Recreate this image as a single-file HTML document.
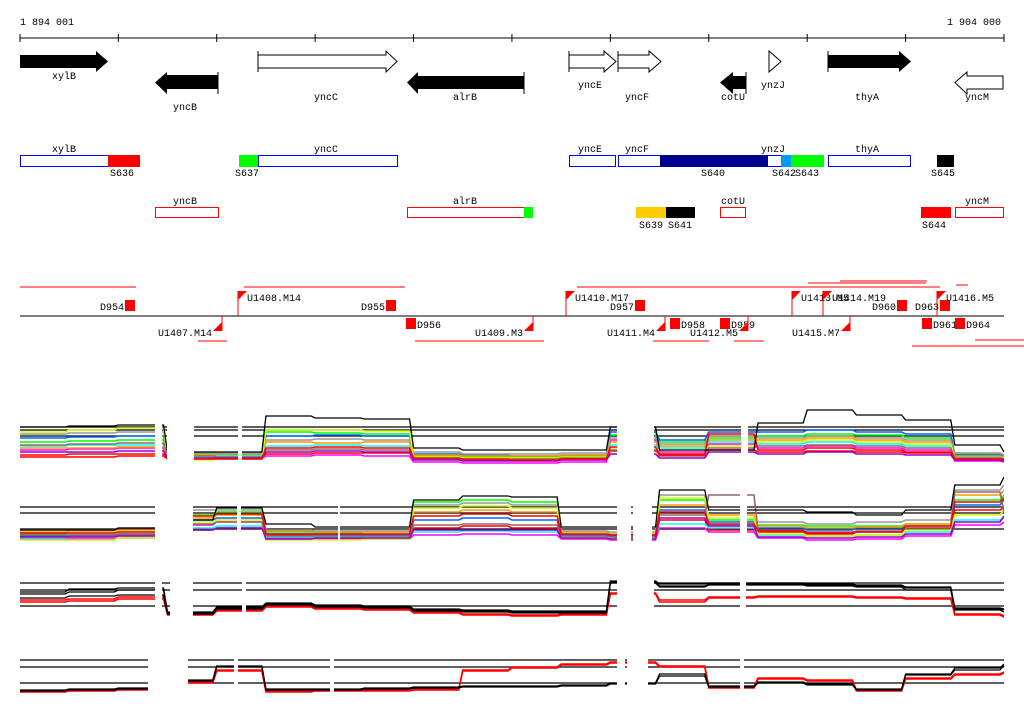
<!DOCTYPE html>
<html><head><meta charset="utf-8"><style>
html,body{margin:0;padding:0;background:#fff;width:1024px;height:714px;overflow:hidden}
svg text{font-family:"Liberation Mono","DejaVu Sans Mono",monospace;font-size:10px;fill:#000}
</style></head><body>
<svg id="fig" width="1024" height="714" viewBox="0 0 1024 714" xmlns="http://www.w3.org/2000/svg">
<g>
<text x="20" y="25">1 894 001</text>
<text x="1001" y="25" text-anchor="end">1 904 000</text>
<line x1="20" y1="38" x2="1004" y2="38" stroke="#000"/>
<g id="ticks" stroke="#000"></g>
</g>
<g>
<polygon points="20,55 96,55 96,51 108,61.5 96,72 96,68 20,68" fill="#000"/>
<text x="64" y="79" text-anchor="middle">xylB</text>
<polygon points="218,75 167,75 167,72 155,82.5 167,94 167,89 218,89" fill="#000"/>
<line x1="218" y1="72" x2="218" y2="94" stroke="#000"/>
<text x="185" y="110" text-anchor="middle">yncB</text>
<polygon points="258,55 386,55 386,51 397,61.5 386,72 386,68 258,68" fill="#fff" stroke="#000"/>
<line x1="258" y1="51" x2="258" y2="72" stroke="#000"/>
<text x="326" y="100" text-anchor="middle">yncC</text>
<polygon points="524,76 418,76 418,72 407,82.5 418,94 418,89 524,89" fill="#000"/>
<line x1="524" y1="72" x2="524" y2="94" stroke="#000"/>
<text x="465" y="100" text-anchor="middle">alrB</text>
<polygon points="569,55 604,55 604,51 616,61.5 604,72 604,68 569,68" fill="#fff" stroke="#000"/>
<line x1="569" y1="51" x2="569" y2="72" stroke="#000"/>
<text x="590" y="88" text-anchor="middle">yncE</text>
<polygon points="618,55 649,55 649,51 661,61.5 649,72 649,68 618,68" fill="#fff" stroke="#000"/>
<line x1="618" y1="51" x2="618" y2="72" stroke="#000"/>
<text x="637" y="100" text-anchor="middle">yncF</text>
<polygon points="746,76 733,76 733,72 720,82.5 733,94 733,89 746,89" fill="#000"/>
<line x1="746" y1="72" x2="746" y2="94" stroke="#000"/>
<text x="733" y="100" text-anchor="middle">cotU</text>
<polygon points="769,51 781,61.5 769,72" fill="#fff" stroke="#000"/>
<text x="773" y="88" text-anchor="middle">ynzJ</text>
<polygon points="828,55 899,55 899,51 911,61.5 899,72 899,68 828,68" fill="#000"/>
<line x1="828" y1="51" x2="828" y2="72" stroke="#000"/>
<text x="867" y="100" text-anchor="middle">thyA</text>
<polygon points="1003,76 967,76 967,72 955,82.5 967,94 967,89 1003,89" fill="#fff" stroke="#000"/>
<text x="977" y="100" text-anchor="middle">yncM</text>
</g>
<g stroke-width="1">
<rect x="20.5" y="155.5" width="88" height="11" fill="#fff" stroke="#0000ff"/>
<rect x="108" y="155" width="32" height="12" fill="#ff0000"/>
<text x="64" y="152" text-anchor="middle">xylB</text><text x="122" y="176" text-anchor="middle">S636</text>
<rect x="239" y="155" width="19" height="12" fill="#00ff00"/>
<rect x="258.5" y="155.5" width="139" height="11" fill="#fff" stroke="#0000ff"/>
<text x="326" y="152" text-anchor="middle">yncC</text><text x="247" y="176" text-anchor="middle">S637</text>
<rect x="569.5" y="155.5" width="46" height="11" fill="#fff" stroke="#0000ff"/>
<text x="590" y="152" text-anchor="middle">yncE</text>
<rect x="618.5" y="155.5" width="204" height="11" fill="#fff" stroke="#0000ff"/>
<rect x="660" y="155" width="108" height="12" fill="#000090"/>
<rect x="781" y="155" width="10" height="12" fill="#0099ff"/>
<rect x="791" y="155" width="33" height="12" fill="#00ff00"/>
<text x="637" y="152" text-anchor="middle">yncF</text><text x="773" y="152" text-anchor="middle">ynzJ</text>
<text x="713" y="176" text-anchor="middle">S640</text><text x="784" y="176" text-anchor="middle">S642</text><text x="807" y="176" text-anchor="middle">S643</text>
<rect x="828.5" y="155.5" width="82" height="11" fill="#fff" stroke="#0000ff"/>
<text x="867" y="152" text-anchor="middle">thyA</text>
<rect x="937" y="155" width="17" height="12" fill="#000"/>
<text x="943" y="176" text-anchor="middle">S645</text>
</g>
<g>
<rect x="155.5" y="207.5" width="63" height="10" fill="#fff" stroke="#ff0000"/>
<text x="185" y="204" text-anchor="middle">yncB</text>
<rect x="407.5" y="207.5" width="117" height="10" fill="#fff" stroke="#ff0000"/>
<rect x="524" y="207" width="9" height="11" fill="#00ff00"/>
<text x="465" y="204" text-anchor="middle">alrB</text>
<rect x="636" y="207" width="30" height="11" fill="#ffcc00"/>
<rect x="666" y="207" width="29" height="11" fill="#000"/>
<text x="651" y="228" text-anchor="middle">S639</text><text x="680" y="228" text-anchor="middle">S641</text>
<rect x="720.5" y="207.5" width="25" height="10" fill="#fff" stroke="#ff0000"/>
<text x="733" y="204" text-anchor="middle">cotU</text>
<rect x="921" y="207" width="30" height="11" fill="#ff0000"/>
<text x="934" y="228" text-anchor="middle">S644</text>
<rect x="955.5" y="207.5" width="48" height="10" fill="#fff" stroke="#ff0000"/>
<text x="977" y="204" text-anchor="middle">yncM</text>
</g>
<g stroke="#ff0000" fill="none">
<line x1="20" y1="287" x2="136" y2="287"/><line x1="244" y1="287" x2="405" y2="287"/><line x1="577" y1="287" x2="940" y2="287"/>
<line x1="808" y1="283" x2="926" y2="283"/><line x1="840" y1="281" x2="927" y2="281"/><line x1="956" y1="285" x2="968" y2="285"/>
<line x1="198" y1="341" x2="227" y2="341"/><line x1="415" y1="341" x2="544" y2="341"/><line x1="653" y1="341" x2="709" y2="341"/><line x1="734" y1="341" x2="764" y2="341"/>
<line x1="912" y1="346" x2="1024" y2="346"/><line x1="975" y1="340" x2="1024" y2="340"/>
<line x1="20" y1="316" x2="1004" y2="316" stroke="#000"/>
</g>
<g id="features"></g>
<g id="expr"></g>
</svg>
<script>
const NS="http://www.w3.org/2000/svg";
function mk(tag,attrs,parent){const e=document.createElementNS(NS,tag);for(const k in attrs)e.setAttribute(k,attrs[k]);parent.appendChild(e);return e;}
const ticksG=document.getElementById('ticks');
const tickPos=[1894001,1895000,1896000,1897000,1898000,1899000,1900000,1901000,1902000,1903000,1904000];
function gx(p){return 20+(p-1894001)/(1904000-1894001)*984;}
tickPos.forEach(p=>{const l=mk('line',{x1:gx(p),x2:gx(p),y1:34,y2:42},ticksG);

});
const featG=document.getElementById('features');
const featLabels=["D954","D955","D957","D960","D963","D956","D958","D959","D961","D964"];
const featBoxX=[125,386,635,897,940,406,670,720,922,955];
const featBoxY=[300,300,300,300,300,318,318,318,318,318];
featLabels.forEach((t,i)=>{
 const r=mk('rect',{x:featBoxX[i],y:featBoxY[i],width:10,height:11,fill:'#ff0000'},featG);
 
 
 const up=featBoxY[i]<316;
 const tx=mk('text',{x:up?featBoxX[i]-1:featBoxX[i]+11,y:up?310:328,'text-anchor':up?'end':'start'},featG);tx.textContent=t;
 
 
});
const uLabels=["U1408.M14","U1410.M17","U1413.M5","U1414.M19","U1416.M5","U1407.M14","U1409.M3","U1411.M4","U1412.M5","U1415.M7"];
const uTriX=[238,566,792,823,937,222,533,665,748,850];
uLabels.forEach((t,i)=>{
 const up=i<5;const x=uTriX[i];
 const p=mk('polygon',{points:up?`${x},291 ${x+9},291 ${x},300`:`${x},322 ${x},331 ${x-9},331`,fill:'#ff0000'},featG);
 
 
 mk('line',{x1:x,x2:x,y1:up?291:316,y2:up?316:331,stroke:'#ff0000'},featG);
 const tx=mk('text',{x:up?x+9:x-10,y:up?301:336,'text-anchor':up?'start':'end'},featG);tx.textContent=t;
 
 
});
const samplePos=[1894001,1894500,1895000,1895500,1896000,1896500,1897000,1897500,1898000,1898500,1899000,1899500,1900000,1900500,1901000,1901500,1902000,1902500,1903000,1903500,1904000];
const panelABlack=[33,34,35,8,8,44,42,41,12,10,10,10,33,10,10,37,50,45,40,15,8];
const panelARed=[5,6,6,2,3,6,7,7,1,0,0,1,9,6,10,8,9,8,7,2,0];
const panelAGreen=[18,19,20,6,5,28,27,26,4,3,3,4,25,18,22,24,26,25,22,6,4];
const panelABlue=[22,23,24,4,6,24,25,24,6,5,4,5,28,20,28,28,30,28,26,5,3];
const panelAMagenta=[10,11,12,1,2,4,5,4,-2,-3,-3,-2,20,8,16,12,14,12,10,-1,-2];
const panelACyan=[14,15,15,3,4,14,15,14,2,1,1,2,15,12,18,16,18,16,14,3,2];
const panelAOrange=[12,12,13,5,6,18,17,18,5,4,4,5,18,14,20,20,22,20,18,4,3];
const panelAGrey=[26,27,28,7,7,20,21,20,8,6,6,7,22,16,24,22,24,22,20,7,5];
const panelAYellow=[28,30,32,0,1,30,30,29,3,2,2,3,12,10,14,18,20,18,16,1,0];
const panelABrown=[15,16,17,4,3,10,11,10,1,0,1,2,10,4,12,14,15,14,12,2,1];
const panelAPurple=[8,8,9,2,2,8,9,8,0,-1,-1,0,6,2,8,6,8,6,5,0,-1];
const panelARed2=[3,3,4,1,1,12,13,12,2,1,0,1,13,5,26,10,12,10,8,1,0];
const panelBBlack=[10,10,12,20,32,16,13,13,40,44,43,13,13,50,30,30,28,25,30,55,63];
const panelBRed=[3,4,5,10,12,5,4,4,12,14,12,4,3,20,10,8,6,8,12,30,32];
const panelBGreen=[6,7,8,25,28,8,7,6,38,40,38,6,5,40,20,15,14,14,16,40,45];
const panelBBlue=[4,5,6,20,22,6,5,5,20,22,20,5,4,30,18,12,10,12,14,35,40];
const panelBMagenta=[1,1,2,15,18,2,1,1,5,6,5,1,0,12,8,2,0,1,4,15,18];
const panelBCyan=[2,3,4,12,14,3,3,3,8,9,8,3,2,16,12,5,4,5,8,20,22];
const panelBOrange=[8,9,10,22,25,9,8,8,28,30,28,8,6,35,25,14,12,13,16,45,50];
const panelBGrey=[10,10,12,30,30,10,9,9,35,37,35,9,8,45,15,18,16,18,20,50,55];
const panelBYellow=[0,0,2,18,20,0,0,1,32,34,32,2,1,42,22,6,4,5,10,25,30];
const panelBBrown=[5,5,6,16,18,4,4,4,15,16,15,4,3,25,45,10,8,9,12,48,28];
const panelBPurple=[3,3,4,10,12,1,2,2,10,10,10,2,1,22,14,3,2,3,6,18,24];
const panelBRed2=[7,7,8,24,26,6,6,6,24,26,24,6,5,28,16,9,7,8,14,38,42];
const panelCBlack1=[26,28,30,7,12,16,14,13,10,9,8,8,38,34,36,36,35,34,32,11,10];
const panelCBlack2=[22,24,25,6,11,15,13,12,9,8,7,7,37,33,35,35,34,33,30,10,8];
const panelCBlack3=[28,31,32,8,13,17,15,14,11,10,9,9,39,36,37,37,36,35,33,12,11];
const panelCRed1=[20,21,23,6,10,14,12,11,8,6,5,6,27,20,23,24,24,23,22,6,4];
const panelCRed2=[18,19,21,5,9,13,11,10,7,5,4,5,26,18,22,23,23,22,21,5,3];
const panelDBlack1=[2,3,4,12,26,3,3,4,5,6,6,7,9,18,6,10,8,3,18,24,28];
const panelDBlack2=[1,2,3,11,25,2,2,3,4,5,5,6,8,16,5,9,7,2,17,22,27];
const panelDRed1=[1,2,3,10,22,1,2,2,3,22,25,28,30,26,5,14,12,2,14,18,20];
const panelDRed2=[0,1,2,9,21,0,1,1,2,21,24,27,29,25,4,13,11,1,13,17,19];
const panels=[
 {name:'panel-a',base:460,refs:[33,30,24],top:405,bot:472,gaps:[[155,162],[167,194],[238,242],[617,654],[741,748]],
  series:[['#ff0000',panelARed],['#00ff00',panelAGreen],['#0066ff',panelABlue],['#ff00ff',panelAMagenta],['#00ffff',panelACyan],['#ff9900',panelAOrange],['#999999',panelAGrey],['#ccff00',panelAYellow],['#996666',panelABrown],['#9900cc',panelAPurple],['#ff0000',panelARed2],['#000000',panelABlack]]},
 {name:'panel-b',base:540,refs:[33,27,11],top:475,bot:550,gaps:[[155,193],[237,241],[338,340],[617,631],[633,652],[740,747]],
  series:[['#ff0000',panelBRed],['#00ff00',panelBGreen],['#0066ff',panelBBlue],['#ff00ff',panelBMagenta],['#00ffff',panelBCyan],['#ff9900',panelBOrange],['#999999',panelBGrey],['#ccff00',panelBYellow],['#996666',panelBBrown],['#9900cc',panelBPurple],['#ff0000',panelBRed2],['#000000',panelBBlack]]},
 {name:'panel-c',base:620,refs:[37,30,14],top:575,bot:625,gaps:[[155,162],[170,193],[242,246],[617,654],[740,746]],
  series:[['#ff0000',panelCRed1],['#ff0000',panelCRed2],['#000000',panelCBlack1],['#000000',panelCBlack2],['#000000',panelCBlack3]]},
 {name:'panel-d',base:692,refs:[32,25,9],top:652,bot:700,gaps:[[148,188],[234,238],[330,334],[617,625],[627,648],[740,744]],
  series:[['#ff0000',panelDRed1],['#ff0000',panelDRed2],['#000000',panelDBlack1],['#000000',panelDBlack2]]}
];
const exprG=document.getElementById('expr');
panels.forEach(pn=>{
 const g=mk('g',{},exprG);
 
 
 const vy=v=>pn.base-v;
 pn.refs.forEach(r=>{const l=mk('line',{x1:20,x2:1004,y1:vy(r),y2:vy(r),stroke:'#000','stroke-width':1.2},g);
  
  });
 pn.series.forEach(([c,vals])=>{
  let pts=[];
  vals.forEach((v,i)=>{const x=gx(samplePos[i]);const y=vy(v);
   if(i>0){pts.push((x-4)+','+vy(vals[i-1]));}
   pts.push(x+','+y);});
  const pl=mk('polyline',{points:pts.join(' '),fill:'none',stroke:c,'stroke-width':c==='#000000'?1.3:1.6},g);
  
  
 });
 pn.gaps.concat([[0,20],[1004,1024]]).forEach(([a,b])=>{
  const r=mk('rect',{x:a,y:pn.top,width:b-a,height:pn.bot-pn.top,fill:'#fff'},g);
  
  
 });
});
</script>
</body></html>
